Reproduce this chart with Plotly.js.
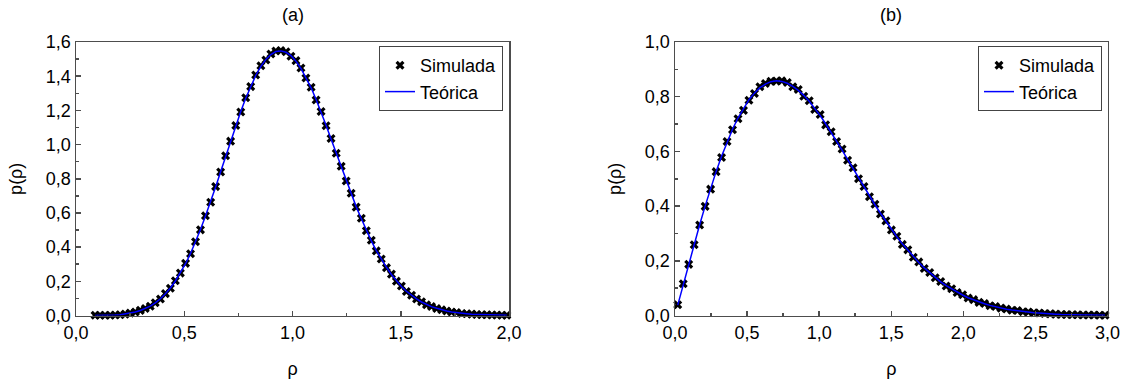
<!DOCTYPE html>
<html>
<head>
<meta charset="utf-8">
<script src="https://cdn.plot.ly/plotly-3.0.1.min.js"></script>
<style>html,body{margin:0;padding:0;background:#fff;}#chart{width:1125px;height:379px;}</style>
</head>
<body>
<div id="chart"></div>
<script>
// Panel (a): bin centres and densities
const rhoA = [0.088,0.111,0.134,0.158,0.181,0.204,0.227,0.250,0.274,0.297,
0.320,0.343,0.366,0.390,0.413,0.436,0.459,0.482,0.506,0.529,
0.552,0.575,0.598,0.622,0.645,0.668,0.691,0.714,0.738,0.761,
0.784,0.807,0.830,0.854,0.877,0.900,0.923,0.946,0.970,0.993,
1.016,1.039,1.062,1.086,1.109,1.132,1.155,1.178,1.202,1.225,
1.248,1.271,1.294,1.318,1.341,1.364,1.387,1.410,1.434,1.457,
1.480,1.503,1.526,1.550,1.573,1.596,1.619,1.642,1.666,1.689,
1.712,1.735,1.758,1.782,1.805,1.828,1.851,1.874,1.898,1.921,
1.944,1.967,1.990];
const simA = [0.001,0.001,0.001,0.002,0.003,0.005,0.008,0.014,0.020,0.030,
0.041,0.054,0.075,0.097,0.128,0.160,0.203,0.248,0.305,0.361,
0.432,0.501,0.584,0.663,0.754,0.839,0.934,1.020,1.112,1.190,
1.274,1.339,1.407,1.461,1.495,1.530,1.547,1.550,1.543,1.517,
1.491,1.448,1.390,1.335,1.261,1.194,1.110,1.036,0.949,0.873,
0.787,0.715,0.634,0.569,0.496,0.440,0.378,0.330,0.280,0.242,
0.201,0.172,0.140,0.119,0.096,0.080,0.063,0.053,0.041,0.034,
0.026,0.021,0.017,0.012,0.010,0.008,0.006,0.005,0.004,0.003,
0.003,0.002,0.002];
const teoA = [0.000,0.000,0.001,0.002,0.003,0.005,0.009,0.013,0.020,0.029,
0.040,0.055,0.074,0.098,0.127,0.161,0.202,0.249,0.303,0.363,
0.430,0.503,0.582,0.665,0.752,0.841,0.931,1.022,1.109,1.193,
1.271,1.342,1.404,1.457,1.498,1.527,1.544,1.548,1.540,1.520,
1.488,1.445,1.393,1.332,1.264,1.191,1.113,1.033,0.952,0.870,
0.790,0.712,0.637,0.566,0.499,0.437,0.380,0.328,0.282,0.240,
0.203,0.170,0.142,0.118,0.097,0.079,0.064,0.052,0.042,0.033,
0.026,0.021,0.016,0.012,0.010,0.007,0.006,0.004,0.003,0.002,
0.002,0.001,0.001];

// Panel (b)
const rhoB = [0.019,0.057,0.095,0.133,0.171,0.209,0.247,0.285,0.323,0.361,
0.399,0.437,0.475,0.513,0.551,0.589,0.627,0.665,0.703,0.741,
0.779,0.817,0.855,0.893,0.931,0.969,1.007,1.045,1.083,1.121,
1.159,1.197,1.235,1.273,1.311,1.349,1.387,1.425,1.463,1.501,
1.539,1.577,1.615,1.653,1.691,1.729,1.767,1.805,1.843,1.881,
1.919,1.957,1.995,2.033,2.071,2.109,2.147,2.185,2.223,2.261,
2.299,2.337,2.375,2.413,2.451,2.489,2.527,2.565,2.603,2.641,
2.679,2.717,2.755,2.793,2.831,2.869,2.907,2.945,2.983];
const simB = [0.039,0.116,0.187,0.259,0.331,0.399,0.462,0.526,0.578,0.636,
0.679,0.719,0.750,0.787,0.812,0.836,0.848,0.856,0.857,0.858,
0.852,0.836,0.826,0.802,0.785,0.753,0.735,0.697,0.672,0.636,
0.609,0.568,0.540,0.500,0.472,0.434,0.407,0.371,0.346,0.313,
0.290,0.260,0.240,0.213,0.196,0.172,0.157,0.138,0.124,0.108,
0.098,0.084,0.076,0.064,0.058,0.048,0.044,0.036,0.033,0.027,
0.024,0.019,0.018,0.014,0.013,0.010,0.009,0.007,0.006,0.005,
0.004,0.004,0.003,0.003,0.002,0.002,0.002,0.001,0.001];
const teoB = [0.038,0.114,0.188,0.261,0.332,0.400,0.465,0.526,0.582,0.634,
0.681,0.722,0.758,0.789,0.813,0.833,0.846,0.855,0.858,0.856,
0.849,0.838,0.823,0.805,0.783,0.758,0.731,0.701,0.670,0.638,
0.605,0.571,0.537,0.504,0.470,0.437,0.405,0.374,0.344,0.316,
0.288,0.262,0.238,0.215,0.194,0.174,0.156,0.139,0.123,0.109,
0.097,0.085,0.075,0.065,0.057,0.049,0.043,0.037,0.032,0.027,
0.023,0.020,0.017,0.014,0.012,0.010,0.009,0.007,0.006,0.005,
0.004,0.003,0.003,0.002,0.002,0.002,0.001,0.001,0.001];

const panelTitles = ['(a)', '(b)'];
const seriesNames = ['Simulada', 'Teórica'];
const xTitle = 'ρ';
const yTitle = 'p(ρ)';

const FONT = '"Liberation Sans", Arial, sans-serif';
const AX = '#4d4d4d';

const mk = {symbol: 'x', size: 8, color: '#000000', line: {width: 0}};
const ln = {color: '#0000ff', width: 1.5};

const traces = [
  {x: rhoA, y: simA, type: 'scatter', mode: 'markers', name: seriesNames[0], marker: mk, xaxis: 'x', yaxis: 'y', legend: 'legend', cliponaxis: false},
  {x: rhoA, y: teoA, type: 'scatter', mode: 'lines', name: seriesNames[1], line: ln, xaxis: 'x', yaxis: 'y', legend: 'legend', cliponaxis: false},
  {x: rhoB, y: simB, type: 'scatter', mode: 'markers', name: seriesNames[0], marker: mk, xaxis: 'x2', yaxis: 'y2', legend: 'legend2', cliponaxis: false},
  {x: rhoB, y: teoB, type: 'scatter', mode: 'lines', name: seriesNames[1], line: ln, xaxis: 'x2', yaxis: 'y2', legend: 'legend2', cliponaxis: false}
];

function xax(domain, max, anchor) {
  return {
    domain: domain, range: [0, max], anchor: anchor,
    tick0: 0, dtick: 0.5, tickformat: '.1f',
    ticks: 'inside', ticklen: 5, tickwidth: 1.5, tickcolor: AX,
    minor: {dtick: 0.25, ticks: 'inside', ticklen: 3, tickwidth: 1.5, tickcolor: AX},
    showline: true, linecolor: AX, linewidth: 1.5, mirror: true,
    showgrid: false, zeroline: false,
    tickfont: {family: FONT, size: 18, color: '#000'},
    title: {text: xTitle, font: {family: FONT, size: 18, color: '#000'}, standoff: 24}
  };
}
function yax(domain, max, anchor) {
  return {
    domain: domain, range: [0, max], anchor: anchor,
    tick0: 0, dtick: 0.2, tickformat: '.1f',
    ticks: 'inside', ticklen: 5, tickwidth: 1.5, tickcolor: AX,
    minor: {dtick: 0.1, ticks: 'inside', ticklen: 3, tickwidth: 1.5, tickcolor: AX},
    showline: true, linecolor: AX, linewidth: 1.5, mirror: true,
    showgrid: false, zeroline: false,
    tickfont: {family: FONT, size: 18, color: '#000'},
    title: {text: yTitle, font: {family: FONT, size: 18, color: '#000'}, standoff: 18}
  };
}

const yd = [63.5/379, 337/379];
const legendCommon = {
  xanchor: 'right', yanchor: 'top', y: (379-46)/379,
  bgcolor: '#ffffff', bordercolor: '#444444', borderwidth: 1,
  font: {family: FONT, size: 18, color: '#000'}, tracegroupgap: 0
};

const layout = {
  width: 1125, height: 379,
  margin: {l: 0, r: 0, t: 0, b: 0},
  paper_bgcolor: '#ffffff', plot_bgcolor: '#ffffff',
  separators: ',.',
  font: {family: FONT, size: 18, color: '#000'},
  showlegend: true,
  xaxis: xax([76/1125, 509/1125], 2.0, 'y'),
  yaxis: yax(yd, 1.6, 'x'),
  xaxis2: xax([675/1125, 1107.5/1125], 3.0, 'y2'),
  yaxis2: yax(yd, 1.0, 'x2'),
  legend: Object.assign({}, legendCommon, {x: 503/1125}),
  legend2: Object.assign({}, legendCommon, {x: 1102/1125}),
  annotations: [
    {text: panelTitles[0], xref: 'paper', yref: 'paper', x: 292.5/1125, y: (379-15)/379, xanchor: 'center', yanchor: 'middle', showarrow: false, font: {family: FONT, size: 18, color: '#000'}},
    {text: panelTitles[1], xref: 'paper', yref: 'paper', x: 891/1125, y: (379-15)/379, xanchor: 'center', yanchor: 'middle', showarrow: false, font: {family: FONT, size: 18, color: '#000'}}
  ]
};

Plotly.newPlot('chart', traces, layout, {staticPlot: true, displayModeBar: false});
</script>
</body>
</html>
